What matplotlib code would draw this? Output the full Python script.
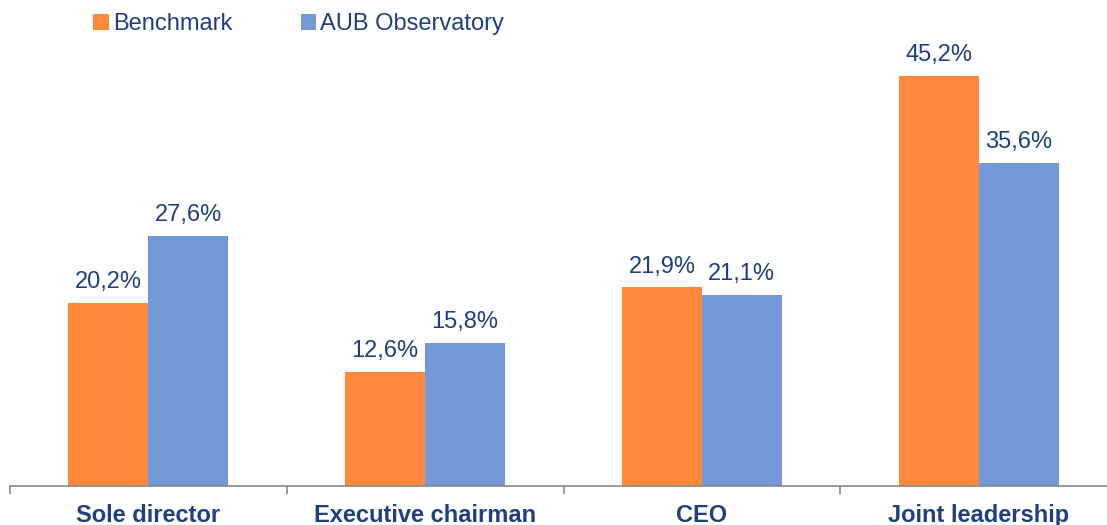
import matplotlib.pyplot as plt
import numpy as np

plt.rcParams["font.family"] = ["Liberation Sans", "DejaVu Sans"]

categories = ["Sole director", "Executive chairman", "CEO", "Joint leadership"]
benchmark = [20.2, 12.6, 21.9, 45.2]
aub = [27.6, 15.8, 21.1, 35.6]
series_names = ["Benchmark", "AUB Observatory"]

ORANGE = "#FF883A"
BLUE = "#7399D8"
TEXT = "#1F3F80"

W, H = 1107, 525
fig = plt.figure(figsize=(W / 100, H / 100), dpi=100)
ax = fig.add_axes([10 / W, (H - 486) / H, 1107 / W, 453.5 / H])

x = np.arange(len(categories))
bw = 0.289
b1 = ax.bar(x - bw / 2, benchmark, bw, color=ORANGE, label=series_names[0])
b2 = ax.bar(x + bw / 2, aub, bw, color=BLUE, label=series_names[1])

for bars, vals in ((b1, benchmark), (b2, aub)):
    for r, v in zip(bars, vals):
        ax.annotate(f"{v:.1f}%".replace(".", ","),
                    (r.get_x() + r.get_width() / 2, v),
                    xytext=(0, 7), textcoords="offset points",
                    ha="center", va="bottom", fontsize=17, color=TEXT)

ax.set_xlim(-0.5, len(categories) - 0.5)
ax.set_ylim(0, 50)
ax.set_yticks([])
for s in ("top", "right", "left"):
    ax.spines[s].set_visible(False)
ax.spines["bottom"].set_color("#888888")
ax.spines["bottom"].set_linewidth(1.2)

ax.set_xticks(np.arange(len(categories) + 1) - 0.5, minor=True)
ax.tick_params(axis="x", which="minor", length=6, color="#888888", width=1.2)
ax.set_xticks(x, categories)
ax.tick_params(axis="x", which="major", length=0, pad=13)
for lab in ax.get_xticklabels():
    lab.set_fontweight("bold")
    lab.set_fontsize(17)
    lab.set_color(TEXT)

leg = fig.legend(loc="upper left", bbox_to_anchor=(72 / W, 1 + 8 / H),
                 ncol=2, frameon=False, fontsize=17, handlelength=0.65,
                 handleheight=0.65, handletextpad=0.18, columnspacing=2.9)
for t in leg.get_texts():
    t.set_color(TEXT)

fig.savefig("out.png", dpi=100)
